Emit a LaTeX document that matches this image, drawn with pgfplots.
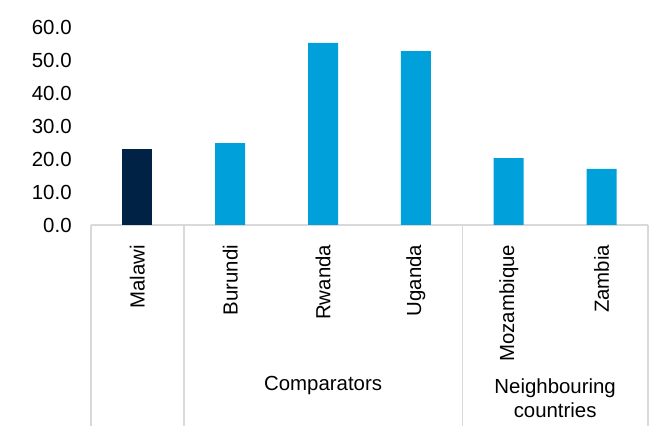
\documentclass[border=0pt]{standalone}
\usepackage{pgfplots}
\pgfplotsset{compat=1.18}
\usepackage{fontspec}
\setmainfont{Liberation Sans}
\definecolor{navy}{HTML}{002345}
\definecolor{cyanbar}{HTML}{00A0DA}
\definecolor{sepgrey}{HTML}{D9D9D9}
\begin{document}
\begin{tikzpicture}[font=\fontsize{10.2}{12.2}\selectfont]
\begin{axis}[
  name=ax,
  scale only axis,
  width=278.5pt, height=99pt,
  xmin=-0.5, xmax=5.5, ymin=0, ymax=60,
  ybar, bar width=15pt, bar shift=0pt,
  axis x line*=bottom, axis y line*=left,
  x axis line style={draw=sepgrey, line width=0.8pt, -},
  y axis line style={draw=none},
  xtick={0,1,2,3,4,5},
  xticklabels={Malawi,Burundi,Rwanda,Uganda,Mozambique,Zambia},
  xtick style={draw=none},
  xticklabel style={rotate=90, anchor=east, inner sep=0pt, xshift=-5.5pt},
  ytick={0,10,...,60},
  ytick style={draw=none},
  yticklabel style={inner sep=0pt, xshift=-9.5pt},
  /pgf/number format/.cd, fixed, fixed zerofill, precision=1, assume math mode=true,
  /pgfplots/.cd,
  clip=false,
]
\addplot[fill=navy, draw=none] coordinates {(0,23.0)};
\addplot[fill=cyanbar, draw=none] coordinates {(1,24.8) (2,55.2) (3,52.7) (4,20.3) (5,17.0)};
\foreach \xx in {-0.5,0.5,3.5,5.5}{
  \edef\tmp{\noexpand\draw[sepgrey, line width=0.8pt] (axis cs:\xx,0) -- ++(0pt,-100.5pt);}
  \tmp
}
\node[align=center] at ([yshift=-80.5pt]axis cs:2,0) {Comparators};
\node[align=center] at ([yshift=-86.5pt]axis cs:4.5,0) {Neighbouring\\countries};
\end{axis}
\pgfresetboundingbox
\useasboundingbox ([xshift=-45.5pt,yshift=-100.5pt]ax.south west) rectangle ([xshift=279pt,yshift=112.5pt]ax.south west);
\end{tikzpicture}
\end{document}
